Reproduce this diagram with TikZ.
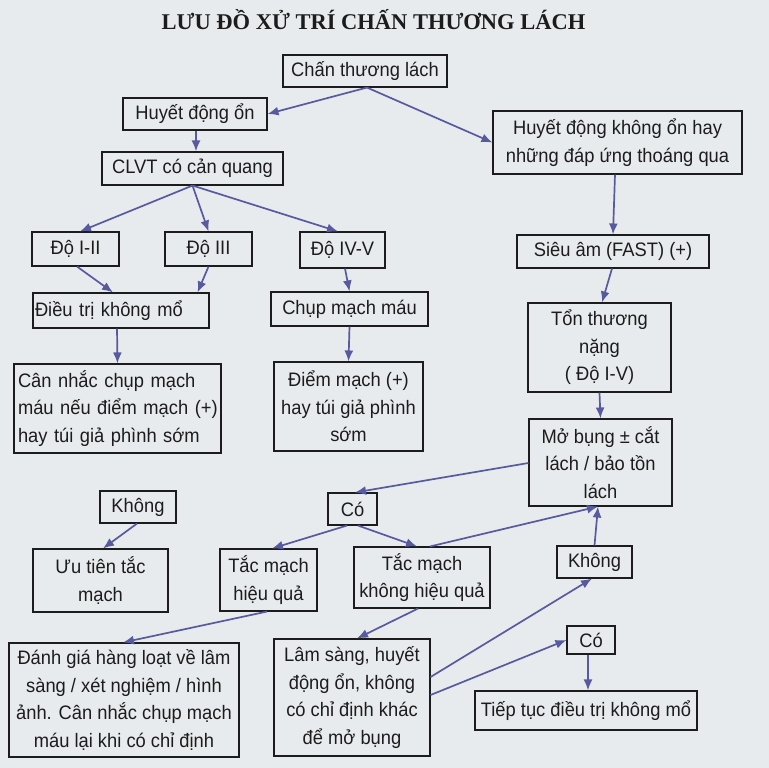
\documentclass[tikz,border=0pt]{standalone}
\usepackage{fontspec}
\usepackage{graphicx}
\setmainfont[FakeStretch=0.94]{Liberation Sans}
\newfontfamily\titlefont{Liberation Serif}
\usetikzlibrary{arrows.meta,calc}
\definecolor{paper}{RGB}{232,235,237}
\definecolor{arr}{RGB}{88,90,160}
\definecolor{ink}{RGB}{28,28,28}
\newcommand\fs{\fontsize{19.5}{27.5}\selectfont}
\tikzset{
  box/.style={draw=ink, line width=1.1pt, inner sep=0pt, align=center, font=\fs, text=ink},
  ar/.style={draw=arr, line width=1.7pt, -{Latex[length=11pt,width=9pt]}},
}
\begin{document}
\begin{tikzpicture}[x=1pt,y=-1pt]
\fill[paper] (0,0) rectangle (769,768);
\useasboundingbox (0,0) rectangle (769,768);

\node[anchor=base, text=ink, inner sep=0pt] (title) at (373.5,30) {\titlefont\bfseries\fontsize{22.5}{27}\selectfont LƯU ĐỒ XỬ TRÍ CHẤN THƯƠNG LÁCH};

\node[box, minimum width=164pt, minimum height=32pt] (chan) at (365,71) {Chấn thương lách};
\node[box, minimum width=144pt, minimum height=32pt] (hdon) at (195,114) {Huyết động ổn};
\node[box, minimum width=181pt, minimum height=33pt] (clvt) at (192.5,168.5) {CLVT có cản quang};
\node[box, minimum width=249pt, minimum height=63pt] (hdko) at (617.5,142.5) {Huyết động không ổn hay\\những đáp ứng thoáng qua};

\node[box, minimum width=87pt, minimum height=34pt] (do12) at (75.5,249) {Độ I-II};
\node[box, minimum width=87pt, minimum height=34pt] (do3) at (208.5,249) {Độ III};
\node[box, minimum width=85pt, minimum height=36pt] (do45) at (342.5,250) {Độ IV-V};
\node[box, minimum width=192pt, minimum height=33pt] (sieuam) at (613,251.5) {Siêu âm (FAST) (+)};

\node[box, align=left, inner xsep=2pt, text width=172pt, minimum height=35pt] (dtkm) at (121,310.5) {Điều trị không mổ};
\node[box, minimum width=157pt, minimum height=34pt] (chupmm) at (349.5,309) {Chụp mạch máu};
\node[box, minimum width=143pt, minimum height=89pt] (tonthuong) at (599.5,347.5) {Tổn thương\\nặng\\( Độ I-V)};

\node[box, align=left, inner xsep=4pt, text width=199pt, minimum height=89pt] (cannhac) at (117.5,408.5) {\makebox[199pt][s]{Cân nhắc chụp mạch}\\\makebox[199pt][s]{máu nếu điểm mạch (+)}\\hay túi giả phình sớm};
\node[box, minimum width=149pt, minimum height=89pt] (diemmach) at (348.5,406.5) {Điểm mạch (+)\\hay túi giả phình\\sớm};
\node[box, minimum width=143pt, minimum height=87pt] (mobung) at (600.5,462.5) {Mở bụng ± cắt\\lách / bảo tồn\\lách};

\node[box, minimum width=76pt, minimum height=32pt] (khong1) at (138,507) {Không};
\node[box, minimum width=49pt, minimum height=32pt] (co1) at (352.5,509) {Có};

\node[box, minimum width=135pt, minimum height=63pt] (uutien) at (100.5,580.5) {Ưu tiên tắc\\mạch};
\node[box, minimum width=97pt, minimum height=62pt] (tmhq) at (268.5,580) {Tắc mạch\\hiệu quả};
\node[box, minimum width=136pt, minimum height=61pt] (tmkhq) at (422,577.5) {Tắc mạch\\không hiệu quả};
\node[box, minimum width=75pt, minimum height=32pt] (khong2) at (594.5,562) {Không};
\node[box, minimum width=48pt, minimum height=28pt] (co2) at (591,640) {Có};

\node[box, minimum width=230pt, minimum height=114pt] (danhgia) at (124,700) {Đánh giá hàng loạt về lâm\\sàng / xét nghiệm / hình\\ảnh. Cân nhắc chụp mạch\\máu lại khi có chỉ định};
\node[box, minimum width=156pt, minimum height=117pt] (lamsang) at (352,697.5) {Lâm sàng, huyết\\động ổn, không\\có chỉ định khác\\để mở bụng};
\node[box, minimum width=222pt, minimum height=39pt] (tieptuc) at (586,710.5) {Tiếp tục điều trị không mổ};

\draw[ar] ([xshift=2pt]chan.south) -- (hdon.east);
\draw[ar] ([xshift=2pt]chan.south) -- (hdko.west);
\draw[ar] ([xshift=1pt]hdon.south) -- ([xshift=3.5pt]clvt.north);
\draw[ar] (clvt.south) -- ([xshift=4.5pt]do12.north);
\draw[ar] (clvt.south) -- (do3.north);
\draw[ar] (clvt.south) -- ([xshift=-4.5pt]do45.north);
\draw[ar] ([xshift=-2.5pt]hdko.south) -- (sieuam.north);
\draw[ar] ([xshift=1.5pt]do12.south) -- ([xshift=-8pt]dtkm.north);
\draw[ar] (do3.south) -- ([xshift=-12pt]dtkm.north east);
\draw[ar] ([xshift=-4pt]dtkm.south) -- (cannhac.north);
\draw[ar] ([xshift=2.5pt]do45.south) -- (chupmm.north);
\draw[ar] (chupmm.south) -- (diemmach.north);
\draw[ar] ([xshift=-1pt]sieuam.south) -- ([xshift=2.5pt]tonthuong.north);
\draw[ar] (tonthuong.south) -- (mobung.north);
\draw[ar] ([yshift=-0.5pt]mobung.west) -- ([xshift=2.5pt]co1.north);
\draw[ar] ([xshift=-1pt]khong1.south) -- ([xshift=2.5pt]uutien.north);
\draw[ar] ([xshift=-5.5pt]co1.south) -- ([xshift=3.5pt]tmhq.north);
\draw[ar] ([xshift=5.5pt]co1.south) -- ([xshift=-5pt]tmkhq.north);
\draw[ar] ([xshift=-1.5pt]tmhq.south) -- ([xshift=-1pt]danhgia.north);
\draw[ar] ([xshift=-4pt]tmkhq.south) -- ([xshift=5pt]lamsang.north);
\draw[ar] ([xshift=8pt]tmkhq.north) -- ([xshift=-2.5pt]mobung.south);
\draw[ar] (khong2.north) -- ([xshift=-2.5pt]mobung.south);
\draw[ar] ([yshift=20.5pt]lamsang.east) -- ([xshift=-2.5pt]khong2.south);
\draw[ar] ([yshift=2.5pt]lamsang.east) -- (co2.west);
\draw[ar] ([xshift=-3pt]co2.south) -- ([xshift=2pt]tieptuc.north);
\end{tikzpicture}
\end{document}
